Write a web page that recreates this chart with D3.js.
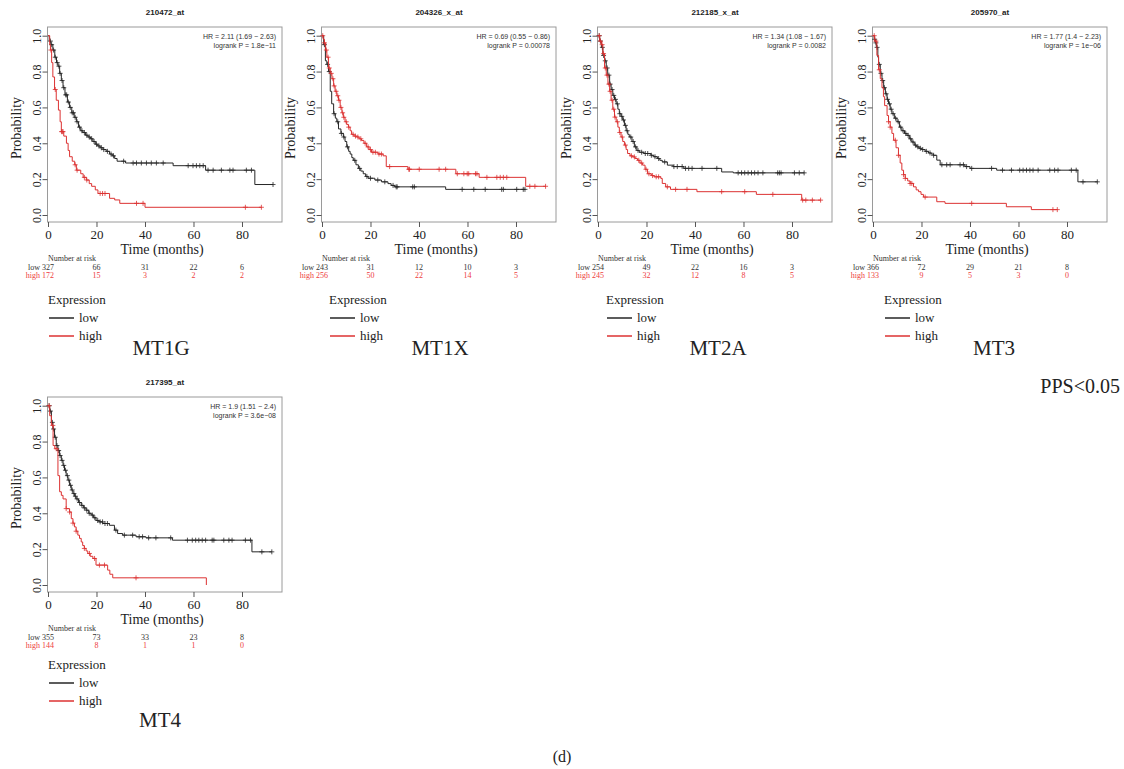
<!DOCTYPE html>
<html><head><meta charset="utf-8">
<script src="https://cdn.jsdelivr.net/npm/d3@7"></script>
<style>body{margin:0;background:#fff}</style>
</head><body>
<svg id="c" width="1124" height="769"></svg>
<script>
// ---------------- DATA ----------------
const genes = ["MT1G", "MT1X", "MT2A", "MT3", "MT4"];
const probes = ["210472_at", "204326_x_at", "212185_x_at", "205970_at", "217395_at"];
const hrText = ["HR = 2.11 (1.69 \u2212 2.63)", "HR = 0.69 (0.55 \u2212 0.86)", "HR = 1.34 (1.08 \u2212 1.67)", "HR = 1.77 (1.4 \u2212 2.23)", "HR = 1.9 (1.51 \u2212 2.4)"];
const pText = ["logrank P = 1.8e\u221211", "logrank P = 0.00078", "logrank P = 0.0082", "logrank P = 1e\u221206", "logrank P = 3.6e\u221208"];
const xTicks = [0, 20, 40, 60, 80];
const yTicks = [0, 0.2, 0.4, 0.6, 0.8, 1.0];
const riskLow = [[327, 66, 31, 22, 6], [243, 31, 12, 10, 3], [254, 49, 22, 16, 3], [366, 72, 29, 21, 8], [355, 73, 33, 23, 8]];
const riskHigh = [[172, 15, 3, 2, 2], [256, 50, 22, 14, 5], [245, 32, 12, 8, 5], [133, 9, 5, 3, 0], [144, 8, 1, 1, 0]];

// Kaplan-Meier steps: [time, survival after drop]; censor times
const mt1g_low = [[0.5,0.97],[1.2,0.95],[2,0.92],[2.8,0.88],[3.5,0.85],[4.1,0.83],[4.8,0.79],[5.5,0.75],[6.2,0.71],[7,0.67],[8,0.63],[8.9,0.60],[9.8,0.57],[10.8,0.545],[11.7,0.52],[12.6,0.49],[13.5,0.47],[14.4,0.46],[15.5,0.445],[16.5,0.435],[17.5,0.425],[18.5,0.41],[19.5,0.395],[20.5,0.385],[21.5,0.375],[22.7,0.365],[24,0.355],[25.4,0.34],[26.5,0.33],[27.5,0.315],[28.5,0.30],[32,0.29],[51.6,0.275],[65,0.25],[85.3,0.17]];
const mt1g_lowCens = [1,1.5,2.3,3,3.8,4.5,5,5.8,6.5,7.3,7.7,8.4,9.2,10,10.5,11.2,12,13,14,15,16,17,18,19,20,21,22,23,24.5,26,27,31.2,35.1,36.5,38.5,40.6,42.6,44.7,47.5,57.8,59.8,61.2,62.6,64,66,68.1,71.5,75,76.3,81.8,83.9,92.8];
const mt1g_high = [[0.7,0.95],[1,0.92],[1.5,0.85],[2,0.77],[2.7,0.70],[3.4,0.64],[4.3,0.585],[5,0.52],[5.5,0.465],[6.5,0.44],[7.6,0.40],[8.3,0.36],[8.9,0.325],[10,0.30],[11,0.28],[11.7,0.25],[13.5,0.23],[14.5,0.21],[15.8,0.195],[17,0.175],[18,0.16],[19.5,0.14],[20.6,0.12],[25.4,0.093],[27.5,0.084],[29.6,0.065],[40,0.043]];
const mt1g_highCens = [1.2,3,5.6,5.9,6.2,11.2,12,15,16,21.5,22.5,23.5,36.5,39.2,81.4,88];

const mt1x_low = [[0.7,0.95],[1.4,0.86],[2,0.84],[2.7,0.80],[3.4,0.69],[4,0.62],[4.8,0.565],[5.5,0.54],[6.1,0.52],[6.8,0.48],[7.8,0.455],[8.8,0.435],[9.5,0.41],[10.2,0.38],[11,0.355],[11.6,0.34],[12.3,0.32],[12.9,0.305],[14,0.28],[15,0.26],[16,0.245],[17,0.23],[18,0.215],[19,0.205],[21.8,0.195],[24.5,0.185],[27.2,0.175],[28.5,0.165],[30,0.157],[51,0.143]];
const mt1x_lowCens = [1,2.3,3,5,6.5,8,9,10.5,13.5,15.5,18.5,20,23,25.9,29.3,30.6,31,37.4,38.1,57.8,62.6,67.3,74.1,74.8,80.3,83,83.7];
const mt1x_high = [[0.5,0.98],[1,0.96],[1.5,0.92],[2,0.88],[2.7,0.82],[3.4,0.79],[4.1,0.76],[4.8,0.72],[5.4,0.69],[6.1,0.665],[6.8,0.64],[7.5,0.60],[8.2,0.57],[8.8,0.545],[9.5,0.52],[10.2,0.505],[10.9,0.49],[11.6,0.47],[12.2,0.45],[13.2,0.44],[14.3,0.435],[15.3,0.425],[16.3,0.415],[17.3,0.40],[18.4,0.38],[19.4,0.365],[20.4,0.35],[23.1,0.34],[25.2,0.33],[26.5,0.27],[35.4,0.255],[55.2,0.23],[64.8,0.21],[84,0.16]];
const mt1x_highCens = [0.3,1,1.8,2.5,3,3.8,4.5,5,5.8,6.5,7,7.8,8.5,9,10,11,12.8,13.8,14.8,16,17.8,19,20,21,22,23.5,24.5,27.9,35.8,36.1,40.1,48.3,51,55.8,58.5,59.9,60.5,63.3,63.9,68,72.1,73.5,74.8,76.2,85.7,87.8,92.2];

const mt2a_low = [[0.7,0.97],[1.4,0.935],[2,0.89],[2.7,0.86],[3.4,0.82],[4,0.78],[4.8,0.73],[5.4,0.70],[6.1,0.667],[6.8,0.645],[7.5,0.62],[8.2,0.59],[8.8,0.565],[9.5,0.55],[10.2,0.53],[10.9,0.50],[11.6,0.47],[12.3,0.45],[12.9,0.435],[14,0.41],[15,0.38],[16,0.36],[17,0.35],[19,0.343],[21.8,0.333],[23,0.325],[24.5,0.315],[25.5,0.305],[26.5,0.296],[28.6,0.278],[31,0.27],[35.4,0.26],[51,0.24],[55.8,0.235]];
const mt2a_lowCens = [0.5,1,1.8,2.3,3,3.8,4.5,5,5.8,6.5,7.2,8,9,9.8,10.5,11.3,12,13.5,14.5,15.5,16.5,18,19.5,20.5,22,23.5,25,27.5,31.3,32.7,34.7,36.1,37.4,38.8,42.9,49,57.8,59.2,60.5,61.9,63.3,64.6,66,68,74.1,74.8,75.5,81,83,85];
const mt2a_high = [[0.7,0.97],[1.4,0.95],[2,0.90],[2.7,0.82],[3.4,0.78],[4.1,0.73],[4.8,0.69],[5.4,0.64],[6.1,0.59],[6.8,0.546],[7.5,0.52],[8.2,0.49],[8.8,0.46],[9.5,0.435],[10.2,0.41],[10.9,0.39],[11.6,0.365],[12.2,0.343],[13.2,0.33],[14.3,0.324],[15.3,0.315],[16.3,0.305],[17.3,0.29],[18.4,0.278],[19.4,0.255],[20.4,0.23],[22,0.22],[23.1,0.213],[25.9,0.204],[26.5,0.176],[27.9,0.157],[29.9,0.143],[40.8,0.13],[65.3,0.115],[84,0.083]];
const mt2a_highCens = [0.5,1,1.7,2.3,3,3.7,4.5,5,5.8,6.5,7,8,9,10,11.3,13.8,15,16.8,18,19.8,21,22.5,24,25,28.6,32,36.7,51,60.5,72.1,84.4,85.7,88.4,91.8];

const mt3_low = [[0.5,0.98],[1,0.96],[1.4,0.935],[2,0.88],[2.3,0.84],[3,0.79],[3.7,0.75],[4.4,0.71],[5.1,0.676],[5.8,0.645],[6.4,0.62],[7.1,0.59],[7.8,0.565],[8.8,0.54],[9.9,0.52],[10.9,0.49],[11.9,0.47],[13,0.455],[14,0.444],[15,0.425],[16,0.407],[17,0.39],[18,0.38],[19,0.372],[20,0.365],[21.5,0.355],[22.9,0.346],[24,0.34],[24.9,0.333],[26.3,0.306],[27.7,0.28],[37.9,0.27],[40,0.26],[51,0.25],[84.5,0.185]];
const mt3_lowCens = [0.7,1.2,1.7,2.6,3.3,4,4.7,5.4,6,6.8,7.5,8.3,9.3,10.4,11.4,12.4,13.5,14.5,15.5,16.5,17.5,18.5,19.5,20.5,22,23.5,25,28.4,30.4,31.8,35.9,37.3,38.6,40.7,48.9,53.4,57.1,60.5,61.9,63.3,64.7,66,68.1,72.9,74.9,76.3,81.8,83.8,86.6,92.5];
const mt3_high = [[0.7,0.97],[1.6,0.89],[2.3,0.81],[3,0.76],[3.7,0.71],[4.3,0.66],[4.8,0.61],[5.8,0.555],[6.4,0.52],[7.1,0.49],[7.8,0.455],[8.5,0.417],[9.5,0.375],[10.5,0.333],[11.2,0.29],[11.9,0.25],[12.6,0.225],[13.3,0.204],[14.3,0.19],[15.3,0.176],[16.7,0.157],[17.8,0.14],[18.8,0.13],[19.8,0.115],[20.8,0.10],[26.3,0.074],[29.7,0.065],[55,0.046],[65.3,0.03]];
const mt3_highCens = [0.5,1.2,2.6,6.4,7.1,9.2,10.5,12.6,13.3,15.3,16,21.5,40.7,74.2,76];

const mt4_low = [[0.7,0.97],[1.4,0.907],[2,0.87],[2.7,0.824],[3.4,0.778],[4.1,0.75],[4.8,0.722],[5.5,0.695],[6.2,0.667],[6.8,0.64],[7.5,0.61],[8.2,0.585],[8.9,0.556],[9.6,0.53],[10.3,0.51],[11,0.495],[11.6,0.48],[12.6,0.46],[13.7,0.444],[14.7,0.43],[15.7,0.417],[16.8,0.40],[17.8,0.39],[18.8,0.375],[19.8,0.36],[21,0.352],[22.6,0.343],[25.3,0.333],[27.4,0.306],[28.7,0.287],[30.8,0.278],[36.3,0.269],[40.4,0.263],[51.3,0.25],[84.1,0.185]];
const mt4_lowCens = [0.5,1,1.8,2.3,3,3.7,4.4,5,5.8,6.5,7.2,8,8.6,9.3,10,10.7,11.3,12,13,14,15,16,17,18.3,19.3,20.5,21.5,22.5,23.5,24.5,28,31.5,34.9,37.6,39,41.5,44.5,50.6,57.5,59.5,60.9,62.2,63.6,65,67.7,68.4,72.5,74.6,75.9,81.4,83.5,88.2,92.3];
const mt4_high = [[0.7,0.944],[1.4,0.89],[2.1,0.778],[2.8,0.76],[4.1,0.61],[4.8,0.52],[5.5,0.50],[6.2,0.48],[7.5,0.426],[8.9,0.407],[9.6,0.37],[10.3,0.345],[10.9,0.324],[11.6,0.30],[12.3,0.278],[13,0.26],[13.7,0.24],[14.3,0.22],[15,0.204],[15.7,0.19],[16.4,0.176],[17.4,0.16],[18.5,0.148],[19.8,0.111],[24.6,0.083],[25.5,0.06],[26.7,0.04],[65.3,0.0]];
const mt4_highCens = [0.4,2,3.4,7.5,8.9,10.3,11.6,15,17.1,19.2,21.2,23.3,36.3];

const lowCurves = [mt1g_low, mt1x_low, mt2a_low, mt3_low, mt4_low];
const lowCensors = [mt1g_lowCens, mt1x_lowCens, mt2a_lowCens, mt3_lowCens, mt4_lowCens];
const highCurves = [mt1g_high, mt1x_high, mt2a_high, mt3_high, mt4_high];
const highCensors = [mt1g_highCens, mt1x_highCens, mt2a_highCens, mt3_highCens, mt4_highCens];

// ---------------- LAYOUT ----------------
const layout = [
  {ox: 0,   oy: 0,   legX: 48,  legDy: 0,  geneX: 161, geneY: 355},
  {ox: 274, oy: 0,   legX: 329, legDy: 0,  geneX: 440, geneY: 355},
  {ox: 550, oy: 0,   legX: 606, legDy: 0,  geneX: 718, geneY: 355},
  {ox: 825, oy: 0,   legX: 884, legDy: 0,  geneX: 994, geneY: 355},
  {ox: 0,   oy: 370, legX: 48,  legDy: -5, geneX: 160, geneY: 727}
];
const SERIF = "'Liberation Serif','Times New Roman',serif";
const SANS = "'Liberation Sans',Arial,sans-serif";
const BLACK = "#262626", RED = "#dc3232", RED_TXT = "#ee4040", TXT = "#222";

const svg = d3.select("#c");

function survAt(steps, t) {
  let s = 1;
  for (const [ts, sv] of steps) { if (ts <= t) s = sv; else break; }
  return s;
}

genes.forEach((gene, i) => {
  const L = layout[i];
  const g = svg.append("g").attr("transform", `translate(${L.ox},${L.oy})`);
  const x = d3.scaleLinear().domain([0, 96.5]).range([48, 282]);
  const y = d3.scaleLinear().domain([0, 1]).range([215, 35.7]);

  // title
  g.append("text").attr("x", 165).attr("y", 14.5).attr("text-anchor", "middle")
    .style("font-family", SANS).style("font-weight", "bold").style("font-size", "8px").attr("fill", TXT).text(probes[i]);

  // box
  g.append("rect").attr("x", 47.5).attr("y", 27).attr("width", 234.5).attr("height", 195)
    .attr("fill", "none").attr("stroke", "#9a9a9a").attr("stroke-width", 1);

  // y axis
  const ya = g.append("g").attr("transform", "translate(47.5,0)")
    .call(d3.axisLeft(y).tickValues(yTicks).tickFormat(d3.format(".1f")).tickSize(5).tickSizeOuter(0));
  ya.select(".domain").remove();
  ya.selectAll("line").attr("stroke", "#555");
  ya.selectAll("text").attr("x", 0).attr("dy", "0").attr("text-anchor", "middle")
    .attr("transform", "translate(-6.5,0) rotate(-90)")
    .style("font-family", SERIF).style("font-size", "12px").attr("fill", TXT);

  // x axis
  const xa = g.append("g").attr("transform", "translate(0,222)")
    .call(d3.axisBottom(x).tickValues(xTicks).tickSize(5).tickPadding(3).tickSizeOuter(0));
  xa.select(".domain").remove();
  xa.selectAll("line").attr("stroke", "#555");
  xa.selectAll("text").style("font-family", SERIF).style("font-size", "13px").attr("fill", TXT);

  // axis labels
  g.append("text").attr("transform", "translate(21,128) rotate(-90)").attr("text-anchor", "middle")
    .style("font-family", SERIF).style("font-size", "14px").attr("fill", TXT).text("Probability");
  g.append("text").attr("x", 162).attr("y", 254).attr("text-anchor", "middle")
    .style("font-family", SERIF).style("font-size", "14px").attr("fill", TXT).text("Time (months)");

  // HR text
  g.append("text").attr("x", 276).attr("y", 39).attr("text-anchor", "end")
    .style("font-family", SANS).style("font-size", "7px").attr("fill", "#333").text(hrText[i]);
  g.append("text").attr("x", 276).attr("y", 48).attr("text-anchor", "end")
    .style("font-family", SANS).style("font-size", "7px").attr("fill", "#333").text(pText[i]);

  // curves
  const drawCurve = (steps, cens, color) => {
    const end = Math.max(steps[steps.length - 1][0], d3.max(cens));
    let d = `M${x(0)},${y(1)}`;
    steps.forEach(([t, s]) => { d += `H${x(t)}V${y(s)}`; });
    d += `H${x(end)}`;
    g.append("path").attr("d", d).attr("fill", "none").attr("stroke", color).attr("stroke-width", 1);
    g.append("g").selectAll("path").data(cens).join("path")
      .attr("d", t => { const cx = x(t), cy = y(survAt(steps, t)); return `M${cx - 2.5},${cy}h5M${cx},${cy - 2.5}v5`; })
      .attr("stroke", color).attr("stroke-width", 0.8).attr("fill", "none");
  };
  drawCurve(lowCurves[i], lowCensors[i], BLACK);
  drawCurve(highCurves[i], highCensors[i], RED);

  // risk table
  g.append("text").attr("x", 48).attr("y", 261).style("font-family", SERIF).style("font-size", "8px").attr("fill", "#333").text("Number at risk");
  g.append("text").attr("x", 40).attr("y", 270).attr("text-anchor", "end").style("font-family", SERIF).style("font-size", "8px").attr("fill", "#333").text("low");
  g.append("text").attr("x", 40).attr("y", 278).attr("text-anchor", "end").style("font-family", SERIF).style("font-size", "8px").attr("fill", RED_TXT).text("high");
  g.append("g").selectAll("text").data(riskLow[i]).join("text")
    .attr("x", (d, k) => x(xTicks[k])).attr("y", 270).attr("text-anchor", "middle")
    .style("font-family", SERIF).style("font-size", "8px").attr("fill", "#333").text(d => d);
  g.append("g").selectAll("text").data(riskHigh[i]).join("text")
    .attr("x", (d, k) => x(xTicks[k])).attr("y", 278).attr("text-anchor", "middle")
    .style("font-family", SERIF).style("font-size", "8px").attr("fill", RED_TXT).text(d => d);

  // legend (absolute x)
  const lg = svg.append("g").attr("transform", `translate(${L.legX},${L.oy + L.legDy})`);
  lg.append("text").attr("x", 0).attr("y", 304).style("font-family", SERIF).style("font-size", "13px").attr("fill", TXT).text("Expression");
  [["low", BLACK, 318], ["high", RED, 336]].forEach(([lab, col, yy]) => {
    lg.append("line").attr("x1", 1).attr("x2", 26).attr("y1", yy).attr("y2", yy).attr("stroke", col).attr("stroke-width", 1.5);
    lg.append("text").attr("x", 31).attr("y", yy + 3.5).style("font-family", SERIF).style("font-size", "13px").attr("fill", TXT).text(lab);
  });

  // gene label
  svg.append("text").attr("x", L.geneX).attr("y", L.geneY).attr("text-anchor", "middle")
    .style("font-family", SERIF).style("font-size", "21px").attr("fill", TXT).text(gene);
});

svg.append("text").attr("x", 1120).attr("y", 393).attr("text-anchor", "end")
  .style("font-family", SERIF).style("font-size", "20px").attr("fill", TXT).text("PPS<0.05");
svg.append("text").attr("x", 562).attr("y", 762).attr("text-anchor", "middle")
  .style("font-family", SERIF).style("font-size", "16px").attr("fill", TXT).text("(d)");
</script>
</body></html>
